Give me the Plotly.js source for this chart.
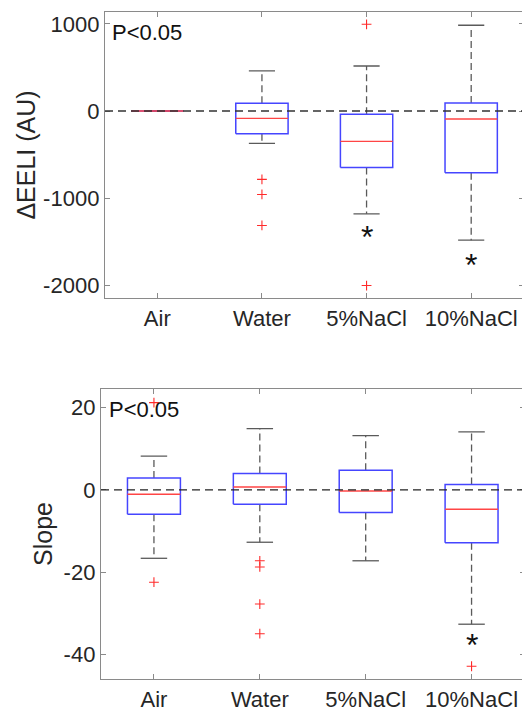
<!DOCTYPE html>
<html>
<head>
<meta charset="utf-8">
<script src="https://cdn.plot.ly/plotly-3.0.1.min.js"></script>
<style>
  html, body { margin: 0; padding: 0; overflow: hidden; background: #fff; }
  #chart { width: 530px; height: 711px; }
</style>
</head>
<body>
<div id="chart"></div>
<script>
// ---------- data ----------
const categories = ['Air', 'Water', '5%NaCl', '10%NaCl'];

// Top panel: ΔEELI (AU)
const eeliLowerWhisker = [0, -372, -1180, -1483];
const eeliQ1           = [0, -261, -648, -709];
const eeliMedian       = [0, -84, -349, -92];
const eeliQ3           = [0, 88, -38, 92];
const eeliUpperWhisker = [0, 460, 517, 985];
const eeliOutliers     = [[], [-785, -958, -1314], [996, -2004], []];
const eeliStars        = [null, null, -1387, -1705];
const eeliTickVals     = [-2000, -1000, 0, 1000];
const eeliTickText     = ['-2000', '-1000', '0', '1000'];

// Bottom panel: Slope
const slopeLowerWhisker = [-16.6, -12.7, -17.2, -32.6];
const slopeQ1           = [-5.9, -3.5, -5.5, -12.8];
const slopeMedian       = [-1.05, 0.7, -0.25, -4.7];
const slopeQ3           = [2.9, 4.0, 4.8, 1.3];
const slopeUpperWhisker = [8.2, 14.9, 13.2, 14.1];
const slopeOutliers     = [[21.2, -22.4], [-17.2, -18.7, -27.7, -34.9], [], [-42.8]];
const slopeStars        = [null, null, null, -36.4];
const slopeTickVals     = [-40, -20, 0, 20];
const slopeTickText     = ['-40', '-20', '0', '20'];

// ---------- styling ----------
const W = 530, H = 711;
const FONT = 'Liberation Sans, Arial, sans-serif';
const TXT = '#262626';
const AXC = '#8a8a8a';
const BOX_HALF = 0.25, CAP_HALF = 0.125;

function panelTraces(xa, ya, lw, q1, med, q3, uw, outl) {
  const pos = categories.map((_, i) => i + 1);
  const wx = [], wy = [], cx = [], cy = [], bx = [], by = [], mx = [], my = [], ox = [], oy = [];
  pos.forEach((p, i) => {
    wx.push(p, p, null, p, p, null);
    wy.push(q3[i], uw[i], null, q1[i], lw[i], null);
    cx.push(p - CAP_HALF, p + CAP_HALF, null, p - CAP_HALF, p + CAP_HALF, null);
    cy.push(uw[i], uw[i], null, lw[i], lw[i], null);
    bx.push(p - BOX_HALF, p + BOX_HALF, p + BOX_HALF, p - BOX_HALF, p - BOX_HALF, null);
    by.push(q1[i], q1[i], q3[i], q3[i], q1[i], null);
    mx.push(p - BOX_HALF, p + BOX_HALF, null);
    my.push(med[i], med[i], null);
    outl[i].forEach(v => { ox.push(p); oy.push(v); });
  });
  const common = { xaxis: xa, yaxis: ya, hoverinfo: 'skip', showlegend: false };
  return [
    Object.assign({ type: 'scatter', mode: 'lines', x: wx, y: wy, line: { color: '#5a5a5a', width: 1.3, dash: '7px,4px' } }, common),
    Object.assign({ type: 'scatter', mode: 'lines', x: cx, y: cy, line: { color: '#5a5a5a', width: 1.3 } }, common),
    Object.assign({ type: 'scatter', mode: 'lines', x: bx, y: by, line: { color: '#4545ff', width: 1.5 } }, common),
    Object.assign({ type: 'scatter', mode: 'lines', x: mx, y: my, line: { color: '#ff4545', width: 1.4 } }, common),
    Object.assign({ type: 'scatter', mode: 'markers', x: ox, y: oy, marker: { symbol: 'cross-thin', size: 7, line: { color: '#ff2a2a', width: 1.1 } } }, common)
  ];
}

function starAnnotations(xa, ya, stars) {
  const out = [];
  stars.forEach((v, i) => {
    if (v === null) return;
    out.push({ xref: xa, yref: ya, x: i + 1, y: v, text: '*', showarrow: false,
      xanchor: 'center', yanchor: 'middle', yshift: -5,
      font: { family: FONT, size: 32, color: '#111' } });
  });
  return out;
}

const data = [].concat(
  panelTraces('x', 'y', eeliLowerWhisker, eeliQ1, eeliMedian, eeliQ3, eeliUpperWhisker, eeliOutliers),
  panelTraces('x2', 'y2', slopeLowerWhisker, slopeQ1, slopeMedian, slopeQ3, slopeUpperWhisker, slopeOutliers)
);

function xAxis(domain, anchor) {
  return {
    domain: domain, anchor: anchor, range: [0.5, 4.5],
    tickvals: categories.map((_, i) => i + 1), ticktext: categories,
    ticks: 'inside', ticklen: 5, tickcolor: AXC, tickwidth: 1,
    showline: true, linecolor: AXC, linewidth: 1.2, mirror: 'ticks',
    showgrid: false, zeroline: false,
    tickfont: { family: FONT, size: 22, color: TXT }
  };
}
function yAxis(domain, anchor, range, tv, tt, title, standoff) {
  return {
    domain: domain, anchor: anchor, range: range,
    tickvals: tv, ticktext: tt,
    ticks: 'inside', ticklen: 5, tickcolor: AXC, tickwidth: 1,
    showline: true, linecolor: AXC, linewidth: 1.2, mirror: 'ticks',
    showgrid: false, zeroline: false,
    tickfont: { family: FONT, size: 22, color: TXT },
    title: { text: title, font: { family: FONT, size: 25, color: TXT }, standoff: standoff }
  };
}

const layout = {
  width: W, height: H,
  margin: { l: 0, r: 0, t: 0, b: 0 },
  paper_bgcolor: '#fff', plot_bgcolor: '#fff',
  xaxis: xAxis([105 / W, 523.5 / W], 'y'),
  yaxis: yAxis([1 - 298 / H, 1 - 12 / H], 'x', [-2147, 1137], eeliTickVals, eeliTickText, 'ΔEELI (AU)', 0),
  xaxis2: xAxis([101 / W, 524.5 / W], 'y2'),
  yaxis2: yAxis([1 - 679 / H, 1 - 389 / H], 'x2', [-45.9, 24.5], slopeTickVals, slopeTickText, 'Slope', 3),
  shapes: [
    { type: 'line', xref: 'x domain', yref: 'y', x0: 0, x1: 1, y0: 0, y1: 0, layer: 'above', line: { color: '#333', width: 1.4, dash: '8px,5px' } },
    { type: 'line', xref: 'x2 domain', yref: 'y2', x0: 0, x1: 1, y0: 0, y1: 0, layer: 'above', line: { color: '#222', width: 1.3, dash: '8px,5px' } }
  ],
  annotations: [
    { xref: 'x domain', yref: 'y domain', x: 0.012, y: 0.93, xanchor: 'left', yanchor: 'middle', text: 'P<0.05', showarrow: false, font: { family: FONT, size: 22, color: '#111' } },
    { xref: 'x2 domain', yref: 'y2 domain', x: 0.014, y: 0.93, xanchor: 'left', yanchor: 'middle', text: 'P<0.05', showarrow: false, font: { family: FONT, size: 22, color: '#111' } }
  ].concat(starAnnotations('x', 'y', eeliStars), starAnnotations('x2', 'y2', slopeStars))
};

Plotly.newPlot('chart', data, layout, { staticPlot: true, displayModeBar: false });
</script>
</body>
</html>
